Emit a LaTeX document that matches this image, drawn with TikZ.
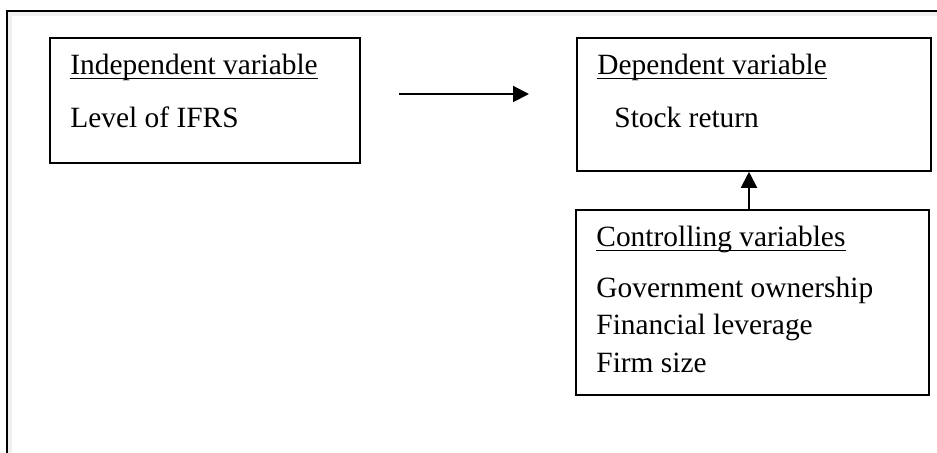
\documentclass[tikz,border=0pt]{standalone}
\usepackage{fontspec}
\setmainfont{Liberation Serif}
\usetikzlibrary{arrows.meta}
\begin{document}
\begin{tikzpicture}[x=0.5pt,y=-0.5pt,
  box/.style={draw, line width=0.8pt, inner sep=0pt},
  txt/.style={anchor=base west, inner sep=0pt, font=\fontsize{14.7}{18.75}\selectfont},
  ul/.style={line width=0.5pt},
  frame/.style={line width=1pt},
  arr/.style={line width=1pt, -{Triangle[length=8pt,width=8pt]}}]
\useasboundingbox (0,0) rectangle (937,453);
% outer frame (top and left sides only)
\draw[gray!12, line width=2pt] (10,453) -- (10,14) -- (937,14);
\draw[frame] (7,453) -- (7,11) -- (937,11);
% boxes
\node[box, minimum width=155pt, minimum height=62.5pt] (ind) at (205,100.5) {};
\node[box, minimum width=177pt, minimum height=66.5pt] (dep) at (754,104.5) {};
\node[box, minimum width=176.5pt, minimum height=92.5pt] (ctl) at (752.5,302.5) {};
% texts
\node[txt] (indT) at (70,75) {Independent variable};
\node[txt] (indL) at (70,128) {Level of IFRS};
\node[txt] (depT) at (597,75) {Dependent variable};
\node[txt] (depL) at (614,128) {Stock return};
\node[txt] (ctlT) at (596,247) {Controlling variables};
\node[txt] (c1) at (596,298) {Government ownership};
\node[txt] (c2) at (596,335) {Financial leverage};
\node[txt] (c3) at (596,373) {Firm size};
% underlines
\foreach \t in {indT,depT,ctlT}
  \draw[ul] ([yshift=-1.6pt]\t.base west) -- ([yshift=-1.6pt]\t.base east);
% arrows
\coordinate (h1) at (399,94);
\coordinate (h2) at (529,94);
\draw[arr] (h1) -- (h2);
\coordinate (vx) at (749,0);
\draw[arr] (ctl.north -| vx) -- (dep.south -| vx);
\end{tikzpicture}
\end{document}
